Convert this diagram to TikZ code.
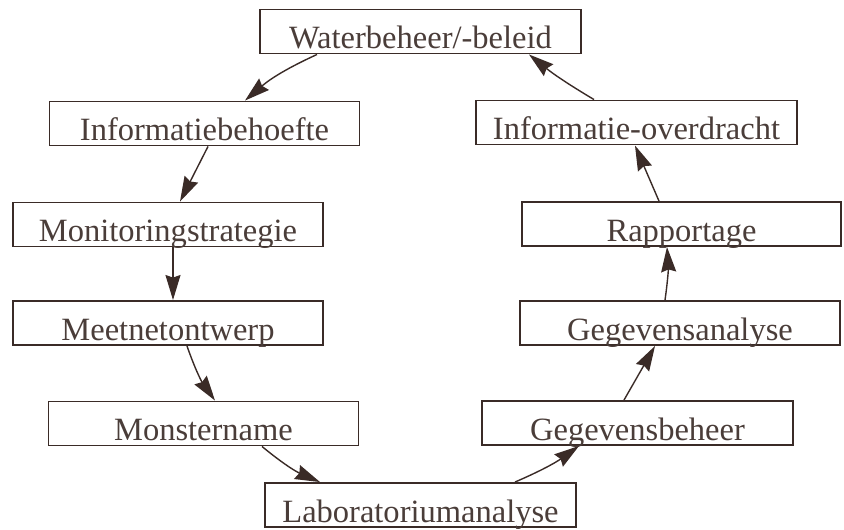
\documentclass[tikz,border=0pt]{standalone}
\usepackage{fontspec}
\setmainfont{Liberation Serif}
\usetikzlibrary{
    arrows.meta
}
\definecolor{inkt}{HTML}{3A2B27}
\definecolor{tekst}{HTML}{4A3D39}
\tikzset{
    pijl/.style={
        every edge/.style={
            draw=inkt,
            line width=0.8pt,
            -{Stealth[length=0.5cm, width=0.3cm, inset=0.05cm, fill=inkt]}
        }
    },
    stap/.style={
        draw=inkt,
        line width=1.1pt,
        fill=white,
        text=tekst,
        minimum width=6.2cm,
        inner xsep=0pt,
        inner ysep=0pt,
        text height=0.78cm,
        text depth=0.10cm,
        font=\fontsize{18.5}{22}\selectfont
    }
}

\begin{document}
\begin{tikzpicture}

    \useasboundingbox (0,0) rectangle (16.88,-10.58);

    % Linkerkant
    \node[stap, minimum width=6.42cm] (wb) at (8.41,-0.63)  {Waterbeheer/-beleid};
    \node[stap]                       (ib) at (4.09,-2.47)  {Informatiebehoefte};
    \node[stap]                       (ms) at (3.36,-4.49)  {Monitoringstrategie};
    \node[stap]                       (mo) at (3.36,-6.46)  {Meetnetontwerp};
    \node[stap]                       (mn) at (4.07,-8.47)  {Monstername};
    \node[stap, minimum width=6.22cm] (la) at (8.41,-10.10) {Laboratoriumanalyse};

    % Rechterkant
    \node[stap, minimum width=6.22cm] (gb) at (12.75,-8.46) {Gegevensbeheer};
    \node[stap, minimum width=6.40cm] (ga) at (13.60,-6.46) {Gegevensanalyse};
    \node[stap, minimum width=6.38cm] (ra) at (13.63,-4.48) {Rapportage};
    \node[stap, minimum width=6.42cm] (io) at (12.73,-2.45) {Informatie-overdracht};

    % Cyclus
    \path[pijl]

        % naar beneden
        ([xshift=-2.07cm]wb.south)
            edge[bend right=8] ([xshift=0.81cm]ib.north)
        ([xshift=0.07cm]ib.south)
            edge ([xshift=0.24cm]ms.north)
        ([xshift=0.10cm]ms.south)
            edge ([xshift=0.10cm]mo.north)
        ([xshift=0.38cm]mo.south)
            edge[bend right=8] ([xshift=0.23cm]mn.north)
        ([xshift=1.17cm]mn.south)
            edge[bend right=8] ([xshift=-2.01cm]la.north)

        % naar boven
        ([xshift=1.89cm]la.north)
            edge[bend right=6] ([xshift=-1.17cm]gb.south)
        ([xshift=-0.27cm]gb.north)
            edge ([xshift=-0.50cm]ga.south)
        ([xshift=-0.30cm]ga.north)
            edge[bend right=6] ([xshift=-0.29cm]ra.south)
        ([xshift=-0.45cm]ra.north)
            edge ([xshift=-0.03cm]io.south)
        ([xshift=-0.85cm]io.north)
            edge[bend left=4] ([xshift=2.17cm]wb.south);

\end{tikzpicture}
\end{document}
